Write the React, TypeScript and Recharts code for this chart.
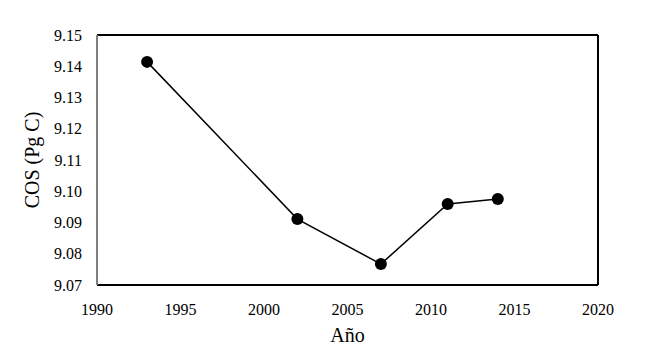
import {
  LineChart,
  Line,
  XAxis,
  YAxis,
  ReferenceLine,
} from "recharts";

// soil organic carbon by year
const years = [1993, 2002, 2007, 2011, 2014];
const cosValues = [9.1414, 9.0911, 9.0767, 9.0959, 9.0975];
const xTicks = [1990, 1995, 2000, 2005, 2010, 2015, 2020];
const yTicks = [9.07, 9.08, 9.09, 9.1, 9.11, 9.12, 9.13, 9.14, 9.15];

const data = years.map((y, i) => ({ year: y, cos: cosValues[i] }));

const font = '"Liberation Serif", "Times New Roman", serif';

export default function App() {
  return (
    <div style={{ margin: -8, width: 658, height: 352, background: "#fff" }}>
      <style>{`.recharts-wrapper text { font-family: ${font}; }`}</style>
      <LineChart
        width={658}
        height={352}
        data={data}
        margin={{ top: 35, right: 60, left: 0, bottom: 0 }}
      >
        <XAxis
          dataKey="year"
          type="number"
          domain={[1990, 2020]}
          ticks={xTicks}
          tickLine={false}
          tickMargin={13}
          axisLine={{ stroke: "#000", strokeWidth: 2 }}
          tick={{ fill: "#000", fontSize: 16 }}
          height={67}
          label={{
            value: "Año",
            position: "insideBottom",
            offset: 10,
            fill: "#000",
            fontSize: 20,
          }}
        />
        <YAxis
          type="number"
          domain={[9.07, 9.15]}
          ticks={yTicks}
          tickFormatter={(v: number) => v.toFixed(2)}
          tickLine={false}
          tickMargin={9}
          width={97}
          axisLine={{ stroke: "#7f7f7f", strokeWidth: 2 }}
          tick={{ fill: "#000", fontSize: 16 }}
          label={{
            value: "COS (Pg C)",
            angle: -90,
            position: "insideLeft",
            offset: 32,
            style: { textAnchor: "middle" },
            fill: "#000",
            fontSize: 20,
          }}
        />
        {/* box edges top + right */}
        <ReferenceLine y={9.15} stroke="#000" strokeWidth={2} />
        <ReferenceLine x={2020} stroke="#000" strokeWidth={2} />
        <Line
          dataKey="cos"
          stroke="#000"
          strokeWidth={1.5}
          dot={{ r: 6, fill: "#000", stroke: "#000", strokeWidth: 0 }}
          isAnimationActive={false}
        />
      </LineChart>
    </div>
  );
}
